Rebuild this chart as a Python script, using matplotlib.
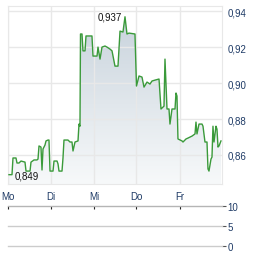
import numpy as np
import matplotlib.pyplot as plt
from matplotlib.colors import LinearSegmentedColormap

# Zeit in Tagen (Mo = 0) und Kurs
t = [0.023, 0.093, 0.116, 0.186, 0.209, 0.256, 0.302, 0.395, 0.419, 0.512,
     0.535, 0.605, 0.674, 0.698, 0.721, 0.767, 0.791, 0.814, 0.860, 0.884,
     0.930, 0.953, 0.977, 1.047, 1.070, 1.140, 1.163, 1.186, 1.256, 1.279,
     1.302, 1.395, 1.442, 1.488, 1.512, 1.558, 1.628, 1.651, 1.674, 1.686,
     1.721, 1.744, 1.791, 1.814, 1.953, 1.977, 2.070, 2.093, 2.140, 2.186,
     2.256, 2.302, 2.372, 2.419, 2.488, 2.558, 2.605, 2.674, 2.721, 2.767,
     2.814, 2.953, 2.988, 3.047, 3.116, 3.163, 3.233, 3.302, 3.349, 3.419,
     3.512, 3.558, 3.628, 3.651, 3.698, 3.744, 3.767, 3.814, 3.884, 3.907,
     3.930, 3.953, 4.047, 4.070, 4.140, 4.186, 4.279, 4.349, 4.372, 4.395,
     4.442, 4.512, 4.535, 4.581, 4.628, 4.651, 4.674, 4.721, 4.744, 4.767,
     4.791, 4.837, 4.860, 4.884, 4.907, 4.953]
kurs = [0.849, 0.849, 0.8583, 0.8583, 0.8555, 0.8555, 0.8566, 0.856, 0.851, 0.851,
        0.856, 0.8572, 0.8572, 0.8577, 0.865, 0.8644, 0.8516, 0.8633, 0.8655, 0.8678,
        0.8683, 0.8683, 0.851, 0.851, 0.8566, 0.8566, 0.855, 0.851, 0.851, 0.8583,
        0.8683, 0.8683, 0.8672, 0.8672, 0.8622, 0.8672, 0.8678, 0.8772, 0.876, 0.9274,
        0.9274, 0.918, 0.918, 0.9263, 0.9263, 0.9151, 0.9151, 0.9201, 0.9134, 0.9201,
        0.9207, 0.9201, 0.919, 0.918, 0.9095, 0.9095, 0.929, 0.9285, 0.937, 0.9274,
        0.9279, 0.9274, 0.8984, 0.904, 0.9034, 0.8978, 0.9006, 0.8995, 0.9012, 0.9017,
        0.9023, 0.8856, 0.8872, 0.9134, 0.8856, 0.8856, 0.8772, 0.8856, 0.8856, 0.8945,
        0.8928, 0.8689, 0.8678, 0.8672, 0.8689, 0.8694, 0.8705, 0.8717, 0.8783, 0.8717,
        0.8772, 0.8772, 0.876, 0.8672, 0.8672, 0.8522, 0.851, 0.8577, 0.8588, 0.876,
        0.8672, 0.876, 0.8744, 0.8644, 0.865, 0.8678]

tage = ['Mo', 'Di', 'Mi', 'Do', 'Fr']
tag_pos = [0, 1, 2, 2.98, 4]
y_ticks = [0.86, 0.88, 0.90, 0.92, 0.94]
vol_ticks = [0, 5, 10]

W, H = 264, 255
fig = plt.figure(figsize=(W / 100, H / 100), dpi=100)
plt.rcParams['font.family'] = ['Liberation Sans', 'DejaVu Sans']
txt_col = '#1f3b66'
grid_col = '#e8e8e8'

def rect(x0, y0, x1, y1):
    return [x0 / W, 1 - y1 / H, (x1 - x0) / W, (y1 - y0) / H]

ax = fig.add_axes(rect(8, 7, 222, 185))
xmax = 4.977
ax.set_xlim(0, xmax)
ax.set_ylim(0.8438, 0.943)

# Farbverlauf unter der Linie
cmap = LinearSegmentedColormap.from_list('g', ['#f7f9fa', '#c6d1db'])
grad = np.linspace(0, 1, 256).reshape(-1, 1)
img = ax.imshow(grad, cmap=cmap, aspect='auto', origin='lower',
                extent=[0, xmax, 0.8438, 0.943], zorder=1)
fb = ax.fill_between(t, kurs, 0.8438, facecolor='none', edgecolor='none')
img.set_clip_path(fb.get_paths()[0], transform=ax.transData)

ax.plot(t, kurs, color='#3a9a3a', lw=1.0, zorder=3)

ax.set_xticks(tag_pos)
ax.set_xticklabels(tage)
ax.set_yticks(y_ticks)
ax.set_yticklabels([f'{v:.2f}'.replace('.', ',') for v in y_ticks])
ax.yaxis.tick_right()
ax.tick_params(length=0, labelsize=7, colors=txt_col, pad=4)
ax.tick_params(axis='x', pad=5)
ax.grid(True, color=grid_col, lw=1, zorder=0)
for s in ax.spines.values():
    s.set_color(grid_col)

imax = int(np.argmax(kurs))
imin = int(np.argmin(kurs))
ax.annotate(f'{kurs[imax]:.3f}'.replace('.', ','), (t[imax], kurs[imax]),
            xytext=(-3, 0), textcoords='offset pixels', ha='right', va='center',
            fontsize=7, color='#111111', zorder=4)
ax.annotate(f'{kurs[imin]:.3f}'.replace('.', ','), (t[imin], kurs[imin]),
            xytext=(6, -1), textcoords='offset pixels', ha='left', va='center',
            fontsize=7, color='#111111', zorder=4)

# Umsatz-Panel (leer)
axv = fig.add_axes(rect(8, 207, 222, 247))
axv.set_xlim(0, xmax)
axv.set_ylim(0, 10)
axv.set_yticks(vol_ticks)
axv.set_yticklabels([str(v) for v in vol_ticks])
axv.yaxis.tick_right()
axv.set_xticks(tag_pos)
axv.set_xticklabels([])
axv.xaxis.tick_top()
axv.tick_params(axis='x', length=2.5, direction='in', color='#222222', width=0.8)
axv.tick_params(axis='y', length=3, color='#555555', labelsize=7,
                labelcolor=txt_col, pad=1)
axv.axhline(10, color='#b5b5b5', lw=1, clip_on=False)
for v in vol_ticks[:-1]:
    axv.axhline(v, color='#cccccc', lw=1, clip_on=False)
for s in axv.spines.values():
    s.set_visible(False)
axv.patch.set_alpha(0)

fig.savefig('out.png', dpi=100)
